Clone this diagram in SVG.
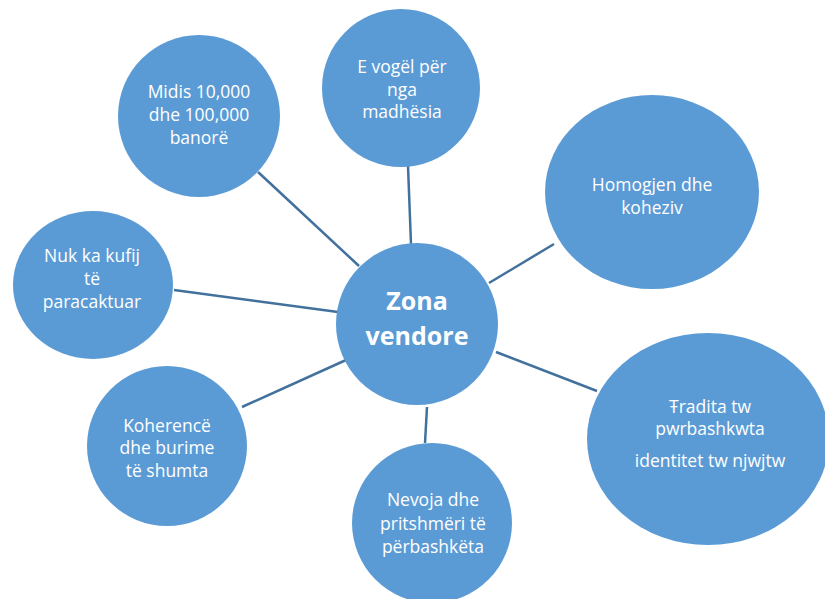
<svg xmlns="http://www.w3.org/2000/svg" width="825" height="599" viewBox="0 0 825 599">
<style>
.n{fill:#5B9BD5;}
.t{font-family:"Open Sans","Liberation Sans",sans-serif;font-size:17.5px;fill:#FFFFFF;text-anchor:middle;}
.c{font-family:"Open Sans","Liberation Sans",sans-serif;font-size:25px;font-weight:bold;fill:#FFFFFF;text-anchor:middle;}
.e line{stroke:#41719C;stroke-width:2.5;}
</style>
<rect width="825" height="599" fill="#FFFFFF"/>
<g id="connectors" class="e">
<line x1="258" y1="172" x2="359" y2="266"/>
<line x1="408" y1="166" x2="411" y2="244"/>
<line x1="554" y1="244" x2="489" y2="283"/>
<line x1="174" y1="290" x2="338" y2="312"/>
<line x1="242" y1="407" x2="346" y2="360"/>
<line x1="425" y1="443" x2="427" y2="407"/>
<line x1="496" y1="352" x2="597" y2="391"/>
</g>
<g id="center">
<circle class="n" cx="417" cy="324" r="81"/>
<text class="c" x="417" y="310">Zona</text>
<text class="c" x="417" y="345">vendore</text>
</g>
<g id="midis">
<circle class="n" cx="199" cy="116" r="81"/>
<text class="t" x="199" y="98">Midis 10,000</text>
<text class="t" x="199" y="121">dhe 100,000</text>
<text class="t" x="199" y="144">banorë</text>
</g>
<g id="evogel">
<circle class="n" cx="401" cy="88" r="79"/>
<text class="t" x="402" y="73">E vogël për</text>
<text class="t" x="402" y="96">nga</text>
<text class="t" x="402" y="118">madhësia</text>
</g>
<g id="homogjen">
<ellipse class="n" cx="652" cy="192" rx="107" ry="97"/>
<text class="t" x="652" y="191">Homogjen dhe</text>
<text class="t" x="652" y="214">koheziv</text>
</g>
<g id="nuk">
<ellipse class="n" cx="93" cy="285" rx="80" ry="74"/>
<text class="t" x="92" y="262">Nuk ka kufij</text>
<text class="t" x="92" y="285">të</text>
<text class="t" x="92" y="308">paracaktuar</text>
</g>
<g id="koherence">
<circle class="n" cx="167" cy="446" r="80"/>
<text class="t" x="167" y="432">Koherencë</text>
<text class="t" x="167" y="454">dhe burime</text>
<text class="t" x="167" y="477">të shumta</text>
</g>
<g id="nevoja">
<circle class="n" cx="432" cy="523" r="80"/>
<text class="t" x="433" y="506">Nevoja dhe</text>
<text class="t" x="433" y="530">pritshmëri të</text>
<text class="t" x="433" y="553">përbashkëta</text>
</g>
<g id="tradita">
<ellipse class="n" cx="708" cy="439" rx="121" ry="106"/>
<text class="t" x="710" y="413">Ŧradita tw</text>
<text class="t" x="710" y="435">pwrbashkwta</text>
<text class="t" x="710" y="467">identitet tw njwjtw</text>
</g>
</svg>
